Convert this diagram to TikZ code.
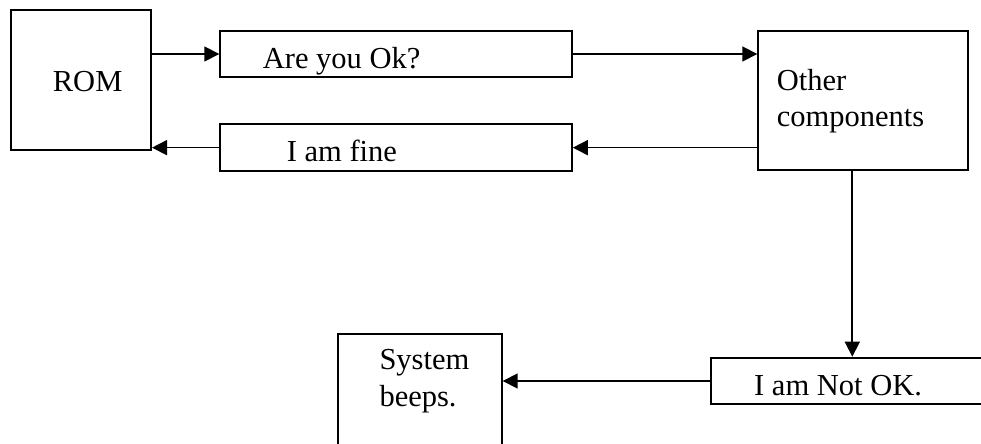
\documentclass[tikz,border=0pt]{standalone}
\usepackage{fontspec}
\setmainfont{Liberation Serif}
\usetikzlibrary{arrows.meta}
\begin{document}
\begin{tikzpicture}[x=1bp,y=-1bp,
  box/.style={draw, line width=2bp, inner sep=0pt, anchor=north west},
  lbl/.style={inner sep=0pt, anchor=base west, align=left,
    font=\fontsize{30.5bp}{36bp}\selectfont},
  arr/.style={line width=1.7bp, -{Triangle[length=15bp,width=15bp]}}]
\useasboundingbox (0,0) rectangle (981,444);
% boxes
\node[box, minimum width=140bp, minimum height=140bp] (rom) at (10,9) {};
\node[box, minimum width=351.5bp, minimum height=46bp] (are) at (219.3,30) {};
\node[box, minimum width=351.5bp, minimum height=46.7bp] (fine) at (219.3,123.3) {};
\node[box, minimum width=210bp, minimum height=139.3bp] (other) at (757.3,30) {};
\node[box, minimum width=290bp, minimum height=46.6bp] (notok) at (710,356.7) {};
\node[box, minimum width=164bp, minimum height=140bp] (sys) at (336.7,333.3) {};
% texts (multi-line labels are anchored at the baseline of their last line)
\node[lbl] (romt) at (52.7,92) {ROM};
\node[lbl] (aret) at (262.7,68.3) {Are you Ok?};
\node[lbl] (finet) at (286.7,161.7) {I am fine};
\node[lbl] (othert) at (776.7,126.7) {Other\\components};
\node[lbl] (syst) at (379.3,406) {System\\beeps.};
\node[lbl] (notokt) at (754,395) {I am Not OK.};
% connectors
\draw[arr] (are.west -| rom.east) -- (are.west);
\draw[arr] (are.east) -- (are.east -| other.west);
\draw[arr] (fine.east -| other.west) -- (fine.east);
\draw[arr] (fine.west) -- (fine.west -| rom.east);
\coordinate (down) at ([xshift=-11bp]other.south);
\draw[arr] (down) -- (down |- notok.north);
\draw[arr] (notok.west) -- (notok.west -| sys.east);
\end{tikzpicture}
\end{document}
